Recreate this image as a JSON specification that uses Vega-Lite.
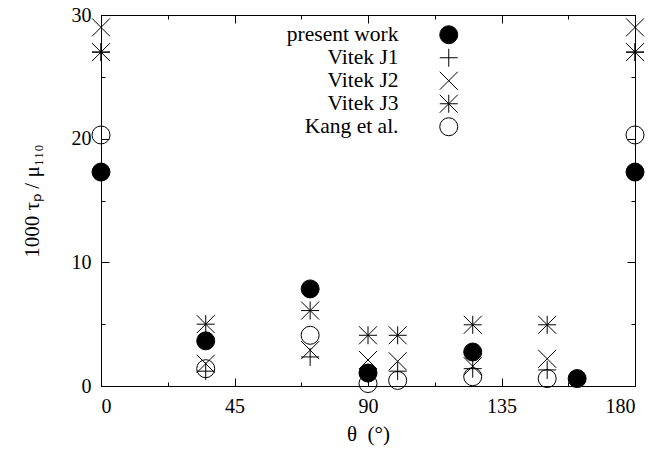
{
  "$schema": "https://vega.github.io/schema/vega-lite/v6.json",
  "width": 534,
  "height": 371,
  "autosize": {"type": "none"},
  "padding": {"left": 101, "top": 15, "right": 19, "bottom": 71},
  "background": "white",
  "config": {
    "font": "Liberation Serif",
    "view": {"stroke": "black", "strokeWidth": 1},
    "axis": {
      "domainColor": "black",
      "domainWidth": 1,
      "tickColor": "black",
      "tickWidth": 1,
      "grid": false,
      "labelFont": "Liberation Serif",
      "labelFontSize": 20,
      "labelColor": "black",
      "titleFont": "Liberation Serif",
      "titleFontSize": 21,
      "titleFontWeight": "normal",
      "titleColor": "black"
    },
    "legend": {
      "title": null,
      "orient": "none",
      "legendX": 337,
      "legendY": 9,
      "padding": 0,
      "rowPadding": 0,
      "symbolSize": 324,
      "symbolStrokeWidth": 1,
      "symbolStrokeColor": "black",
      "labelFont": "Liberation Serif",
      "labelFontSize": 21.5,
      "labelColor": "black",
      "labelAlign": "right",
      "labelOffset": -61,
      "labelLimit": 300
    }
  },
  "data": {
    "values": [
      {"theta": 0, "tau": 17.3, "series": "present work"},
      {"theta": 35.3, "tau": 3.65, "series": "present work"},
      {"theta": 70.5, "tau": 7.85, "series": "present work"},
      {"theta": 90, "tau": 1.05, "series": "present work"},
      {"theta": 125.3, "tau": 2.75, "series": "present work"},
      {"theta": 160.5, "tau": 0.6, "series": "present work"},
      {"theta": 180, "tau": 17.3, "series": "present work"},
      {"theta": 0, "tau": 27.0, "series": "Vitek J1"},
      {"theta": 35.3, "tau": 1.2, "series": "Vitek J1"},
      {"theta": 70.5, "tau": 2.35, "series": "Vitek J1"},
      {"theta": 90, "tau": 1.0, "series": "Vitek J1"},
      {"theta": 100, "tau": 1.2, "series": "Vitek J1"},
      {"theta": 125.3, "tau": 1.4, "series": "Vitek J1"},
      {"theta": 150.4, "tau": 1.3, "series": "Vitek J1"},
      {"theta": 180, "tau": 27.0, "series": "Vitek J1"},
      {"theta": 0, "tau": 29.0, "series": "Vitek J2"},
      {"theta": 35.3, "tau": 1.8, "series": "Vitek J2"},
      {"theta": 70.5, "tau": 2.9, "series": "Vitek J2"},
      {"theta": 90, "tau": 2.1, "series": "Vitek J2"},
      {"theta": 100, "tau": 2.0, "series": "Vitek J2"},
      {"theta": 125.3, "tau": 1.6, "series": "Vitek J2"},
      {"theta": 150.4, "tau": 2.2, "series": "Vitek J2"},
      {"theta": 180, "tau": 29.0, "series": "Vitek J2"},
      {"theta": 0, "tau": 27.0, "series": "Vitek J3"},
      {"theta": 35.3, "tau": 5.0, "series": "Vitek J3"},
      {"theta": 70.5, "tau": 6.1, "series": "Vitek J3"},
      {"theta": 90, "tau": 4.1, "series": "Vitek J3"},
      {"theta": 100, "tau": 4.1, "series": "Vitek J3"},
      {"theta": 125.3, "tau": 4.95, "series": "Vitek J3"},
      {"theta": 150.4, "tau": 4.95, "series": "Vitek J3"},
      {"theta": 180, "tau": 27.0, "series": "Vitek J3"},
      {"theta": 0, "tau": 20.3, "series": "Kang et al."},
      {"theta": 35.3, "tau": 1.4, "series": "Kang et al."},
      {"theta": 70.5, "tau": 4.1, "series": "Kang et al."},
      {"theta": 90, "tau": 0.2, "series": "Kang et al."},
      {"theta": 100, "tau": 0.45, "series": "Kang et al."},
      {"theta": 125.3, "tau": 0.75, "series": "Kang et al."},
      {"theta": 150.4, "tau": 0.6, "series": "Kang et al."},
      {"theta": 180, "tau": 20.3, "series": "Kang et al."}
    ]
  },
  "layer": [
    {
      "mark": {"type": "point", "filled": true, "strokeWidth": 1, "size": 324, "opacity": 1, "clip": false},
      "encoding": {
        "x": {
          "field": "theta", "type": "quantitative",
          "scale": {"domain": [0, 180], "nice": false, "zero": false},
          "axis": {
            "values": [0, 22.5, 45, 67.5, 90, 112.5, 135, 157.5, 180],
            "labelExpr": "datum.value % 45 === 0 ? datum.label : ''",
            "tickSize": {"condition": {"test": "datum.value % 45 === 0", "value": -8}, "value": -4},
            "labelPadding": 18,
            "title": "θ\u00a0\u00a0(°)",
            "titlePadding": 7
          }
        },
        "y": {
          "field": "tau", "type": "quantitative",
          "scale": {"domain": [0, 30], "nice": false},
          "axis": {
            "values": [0, 5, 10, 15, 20, 25, 30],
            "labelExpr": "datum.value % 10 === 0 ? datum.label : ''",
            "tickSize": {"condition": {"test": "datum.value % 10 === 0", "value": -8}, "value": -4},
            "labelPadding": 18,
            "title": "1000 τₚ / μ₁₁₀",
            "titlePadding": 29
          }
        },
        "shape": {
          "field": "series", "type": "nominal",
          "scale": {
            "domain": ["present work", "Vitek J1", "Vitek J2", "Vitek J3", "Kang et al."],
            "range": ["circle", "M-1,0H1M0,-1V1", "M-1,-1L1,1M-1,1L1,-1", "M-1,0H1M0,-1V1M-1,-1L1,1M-1,1L1,-1", "circle"]
          }
        },
        "fill": {
          "field": "series", "type": "nominal",
          "scale": {
            "domain": ["present work", "Vitek J1", "Vitek J2", "Vitek J3", "Kang et al."],
            "range": ["black", "transparent", "transparent", "transparent", "transparent"]
          }
        },
        "stroke": {
          "field": "series", "type": "nominal",
          "scale": {
            "domain": ["present work", "Vitek J1", "Vitek J2", "Vitek J3", "Kang et al."],
            "range": ["black", "black", "black", "black", "black"]
          }
        }
      }
    },
    {
      "mark": {"type": "point", "opacity": 0},
      "encoding": {
        "x": {
          "field": "theta", "type": "quantitative",
          "axis": {
            "orient": "top",
            "values": [0, 22.5, 45, 67.5, 90, 112.5, 135, 157.5, 180],
            "labels": false,
            "title": null,
            "tickSize": {"condition": {"test": "datum.value % 45 === 0", "value": -8}, "value": -4}
          }
        },
        "y": {
          "field": "tau", "type": "quantitative",
          "axis": {
            "orient": "right",
            "values": [0, 5, 10, 15, 20, 25, 30],
            "labels": false,
            "title": null,
            "tickSize": {"condition": {"test": "datum.value % 10 === 0", "value": -8}, "value": -4}
          }
        }
      }
    }
  ],
  "resolve": {"axis": {"x": "independent", "y": "independent"}}
}
